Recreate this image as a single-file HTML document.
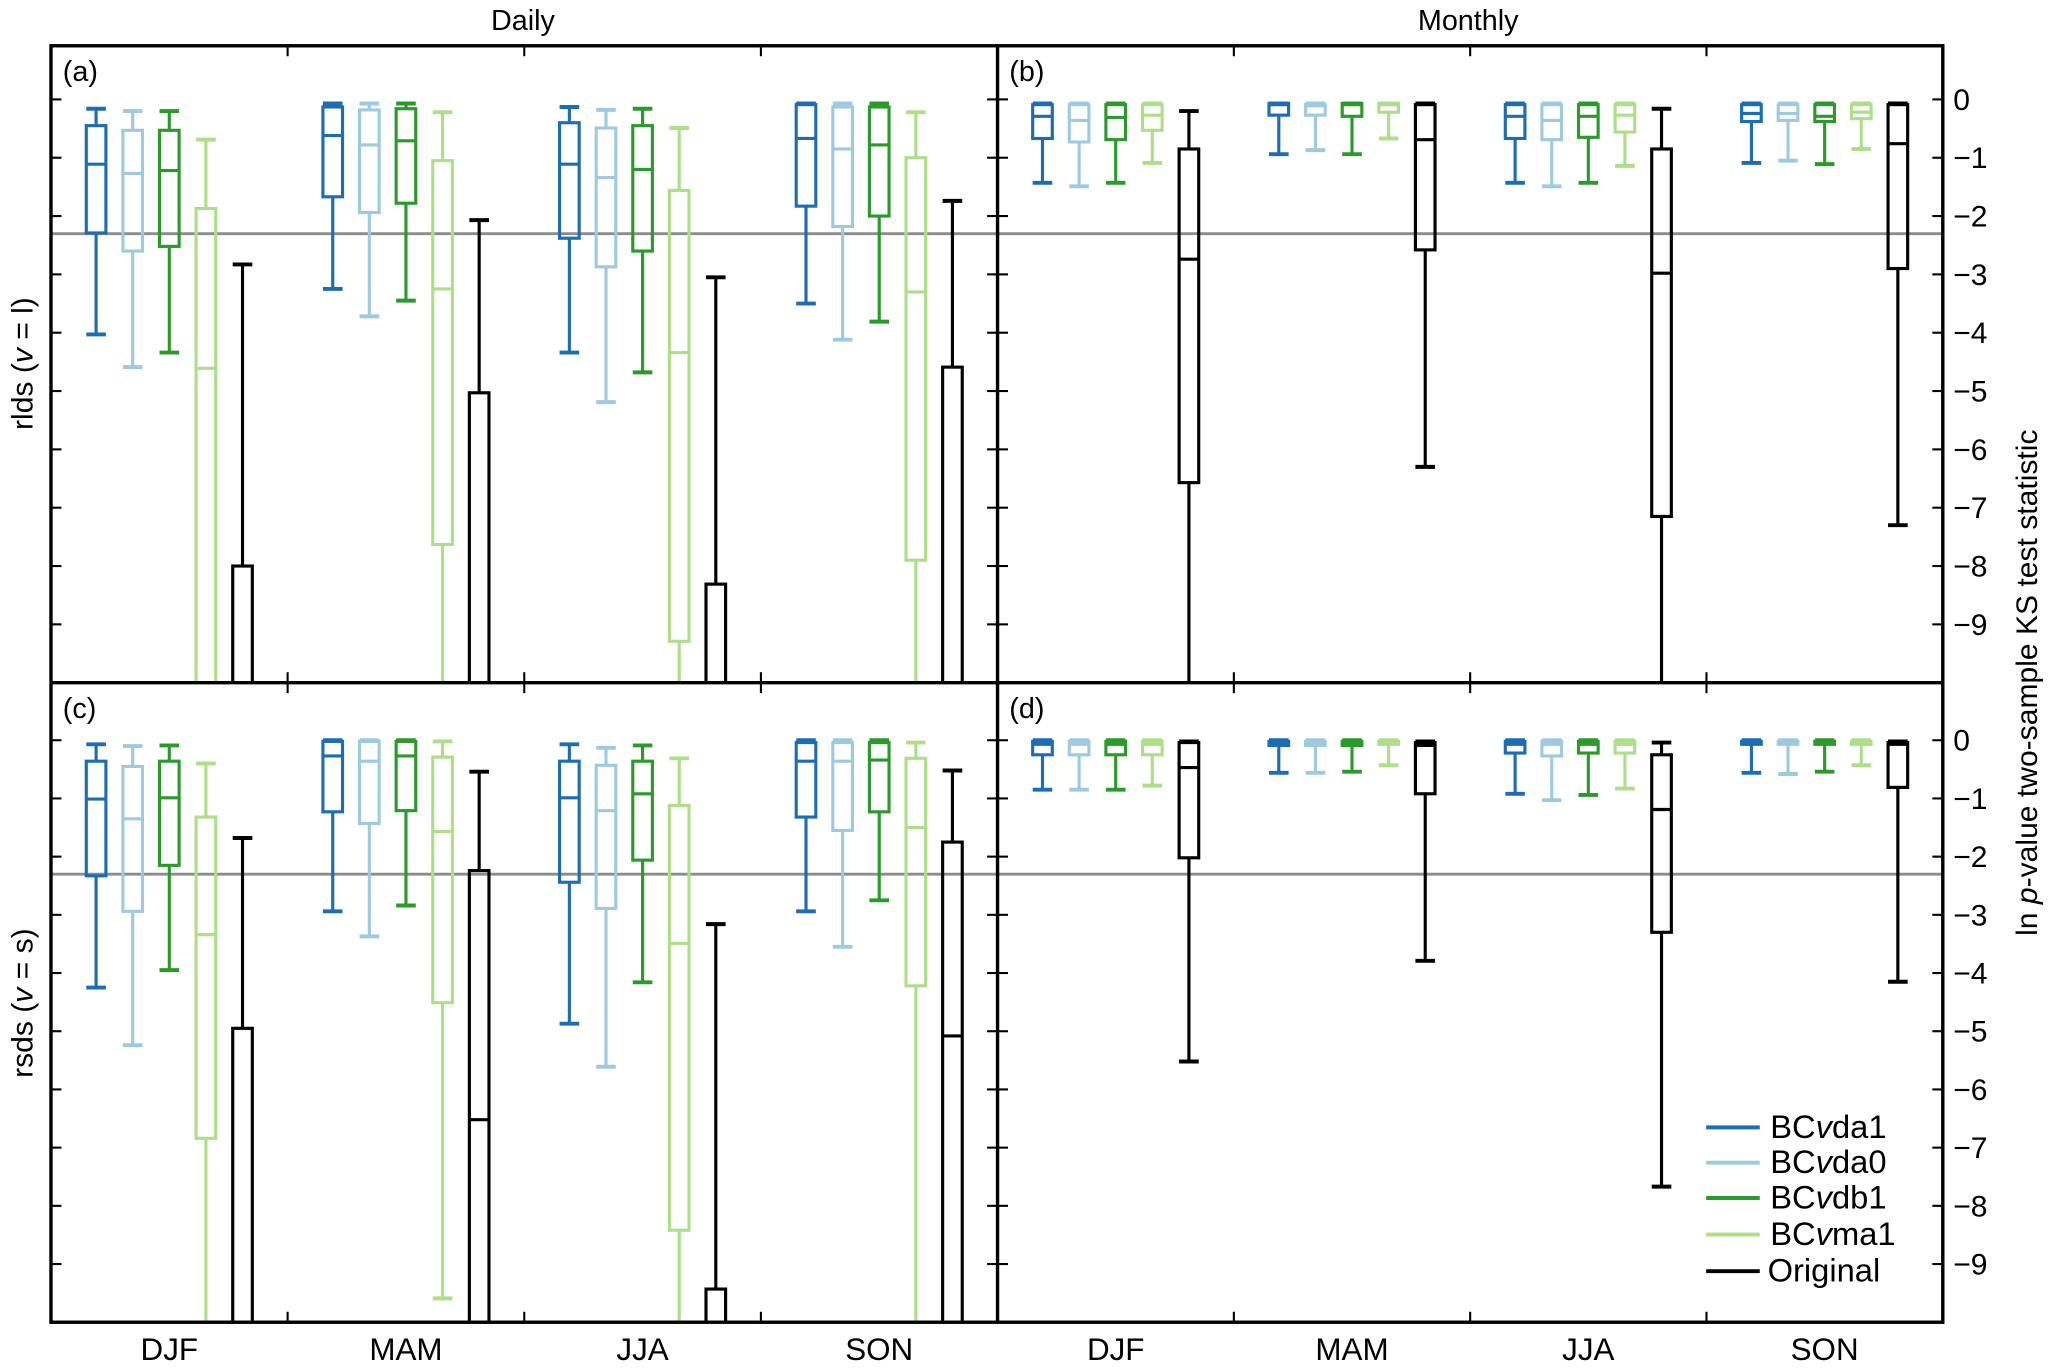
<!DOCTYPE html>
<html><head><meta charset="utf-8"><style>
html,body{margin:0;padding:0;background:#fff;overflow:hidden;width:2050px;height:1368px;}
svg{display:block;position:absolute;left:0;top:0;overflow:hidden;}
text{font-family:"Liberation Sans",Arial,sans-serif;fill:#000;}
</style></head><body>
<svg id="fig" width="2050" height="1368" viewBox="0 0 1568 1046" preserveAspectRatio="none" xmlns="http://www.w3.org/2000/svg">
<defs>
<clipPath id="cA"><rect x="39" y="35" width="724" height="487"/></clipPath>
<clipPath id="cB"><rect x="763" y="35" width="723" height="487"/></clipPath>
<clipPath id="cC"><rect x="39" y="522" width="724" height="489"/></clipPath>
<clipPath id="cD"><rect x="763" y="522" width="723" height="489"/></clipPath>
</defs>
<text x="400" y="23" font-size="22" text-anchor="middle">Daily</text>
<text x="1123" y="23" font-size="22" text-anchor="middle">Monthly</text>
<text transform="translate(25,278) rotate(-90)" font-size="23" text-anchor="middle">rlds (<tspan font-style="italic">v</tspan> = l)</text>
<text transform="translate(25,767) rotate(-90)" font-size="23" text-anchor="middle">rsds (<tspan font-style="italic">v</tspan> = s)</text>
<text transform="translate(1558,522) rotate(-90)" font-size="23" text-anchor="middle">ln <tspan font-style="italic">p</tspan>-value two-sample KS test statistic</text>
<g id="marks"></g>
<g id="frame"></g>
<g>
<line x1="1305" y1="862" x2="1346" y2="862" stroke="#1c6db3" stroke-width="3"/>
<text x="1354" y="870" font-size="25">BC<tspan font-style="italic">v</tspan>da1</text>
<line x1="1305" y1="889" x2="1346" y2="889" stroke="#9ecae1" stroke-width="3"/>
<text x="1354" y="897" font-size="25">BC<tspan font-style="italic">v</tspan>da0</text>
<line x1="1305" y1="916" x2="1346" y2="916" stroke="#2a9a2a" stroke-width="3"/>
<text x="1354" y="924" font-size="25">BC<tspan font-style="italic">v</tspan>db1</text>
<line x1="1305" y1="944" x2="1346" y2="944" stroke="#addf89" stroke-width="3"/>
<text x="1354" y="952" font-size="25">BC<tspan font-style="italic">v</tspan>ma1</text>
<line x1="1305" y1="972" x2="1346" y2="972" stroke="#000" stroke-width="3"/>
<text x="1352" y="980" font-size="25">Original</text>
</g>
</svg>
<script>
const seasons = ["DJF","MAM","JJA","SON"];
const seriesNames = ["vda1","vda0","vdb1","vma1","orig"];
const seriesColors = ["#1c6db3","#9ecae1","#2a9a2a","#addf89","#000000"];
const yTicks = [0,-1,-2,-3,-4,-5,-6,-7,-8,-9];
const refLine = Math.log(0.1);
// each entry: [low whisker, q1, median, q3, high whisker]
const a_vda1 = [[-4.03,-2.29,-1.11,-0.45,-0.16],[-3.25,-1.67,-0.62,-0.13,-0.07],[-4.34,-2.38,-1.11,-0.40,-0.13],[-3.50,-1.83,-0.67,-0.09,-0.07]];
const a_vda0 = [[-4.59,-2.60,-1.27,-0.53,-0.20],[-3.72,-1.94,-0.78,-0.18,-0.07],[-5.19,-2.87,-1.34,-0.49,-0.18],[-4.12,-2.18,-0.85,-0.13,-0.07]];
const a_vdb1 = [[-4.34,-2.52,-1.22,-0.53,-0.20],[-3.45,-1.78,-0.71,-0.16,-0.07],[-4.68,-2.60,-1.20,-0.45,-0.16],[-3.81,-2.00,-0.78,-0.13,-0.07]];
const a_vma1 = [[-12,-12,-4.61,-1.87,-0.69],[-12,-7.63,-3.25,-1.05,-0.22],[-12,-9.29,-4.34,-1.56,-0.49],[-12,-7.90,-3.30,-1.00,-0.22]];
const a_orig = [[-12,-12,-12,-8.00,-2.83],[-12,-12,-12,-5.03,-2.07],[-12,-12,-12,-8.31,-3.05],[-12,-12,-12,-4.59,-1.74]];
const b_vda1 = [[-1.43,-0.67,-0.29,-0.09,-0.07],[-0.94,-0.27,-0.09,-0.07,-0.07],[-1.43,-0.67,-0.29,-0.09,-0.07],[-1.09,-0.38,-0.24,-0.09,-0.07]];
const b_vda0 = [[-1.49,-0.73,-0.36,-0.09,-0.07],[-0.87,-0.27,-0.11,-0.09,-0.07],[-1.49,-0.69,-0.36,-0.09,-0.07],[-1.05,-0.36,-0.24,-0.09,-0.07]];
const b_vdb1 = [[-1.43,-0.69,-0.31,-0.09,-0.07],[-0.94,-0.29,-0.09,-0.07,-0.07],[-1.43,-0.65,-0.29,-0.09,-0.07],[-1.11,-0.38,-0.29,-0.09,-0.07]];
const b_vma1 = [[-1.09,-0.53,-0.27,-0.09,-0.07],[-0.67,-0.22,-0.09,-0.07,-0.07],[-1.14,-0.56,-0.27,-0.09,-0.07],[-0.85,-0.33,-0.22,-0.09,-0.07]];
const b_orig = [[-12,-6.57,-2.74,-0.85,-0.20],[-6.30,-2.58,-0.69,-0.09,-0.07],[-12,-7.15,-2.98,-0.85,-0.16],[-7.30,-2.90,-0.76,-0.09,-0.07]];
const c_vda1 = [[-4.25,-2.33,-1.01,-0.36,-0.07],[-2.94,-1.23,-0.27,-0.02,0],[-4.87,-2.44,-0.99,-0.36,-0.07],[-2.94,-1.32,-0.36,-0.04,0]];
const c_vda0 = [[-5.24,-2.94,-1.35,-0.45,-0.10],[-3.37,-1.43,-0.36,-0.02,0],[-5.61,-2.89,-1.21,-0.43,-0.13],[-3.55,-1.55,-0.36,-0.04,0]];
const c_vdb1 = [[-3.95,-2.15,-0.99,-0.36,-0.09],[-2.84,-1.21,-0.27,-0.02,0],[-4.16,-2.06,-0.92,-0.36,-0.09],[-2.75,-1.23,-0.34,-0.04,0]];
const c_vma1 = [[-12,-6.84,-3.34,-1.32,-0.40],[-9.59,-4.51,-1.57,-0.29,-0.02],[-12,-8.42,-3.49,-1.12,-0.31],[-12,-4.22,-1.50,-0.31,-0.04]];
const c_orig = [[-12,-12,-12,-4.95,-1.68],[-12,-12,-6.52,-2.24,-0.54],[-12,-12,-12,-9.43,-3.16],[-12,-12,-5.08,-1.75,-0.52]];
const d_vda1 = [[-0.85,-0.25,-0.07,-0.02,0],[-0.56,-0.09,-0.04,-0.02,0],[-0.92,-0.22,-0.07,-0.02,0],[-0.56,-0.07,-0.04,-0.02,0]];
const d_vda0 = [[-0.85,-0.25,-0.07,-0.02,0],[-0.56,-0.09,-0.04,-0.02,0],[-1.03,-0.27,-0.07,-0.02,0],[-0.58,-0.07,-0.04,-0.02,0]];
const d_vdb1 = [[-0.85,-0.25,-0.07,-0.02,0],[-0.54,-0.09,-0.04,-0.02,0],[-0.94,-0.22,-0.07,-0.02,0],[-0.54,-0.07,-0.04,-0.02,0]];
const d_vma1 = [[-0.78,-0.25,-0.07,-0.02,0],[-0.43,-0.07,-0.04,-0.02,0],[-0.83,-0.22,-0.07,-0.02,0],[-0.43,-0.07,-0.04,-0.02,0]];
const d_orig = [[-5.52,-2.02,-0.47,-0.04,-0.02],[-3.79,-0.92,-0.09,-0.04,-0.02],[-7.67,-3.30,-1.19,-0.25,-0.04],[-4.15,-0.81,-0.07,-0.04,-0.02]];

const NS = "http://www.w3.org/2000/svg";
const panels = [
  {id:"a", x0:39, x1:763, top:35, bot:522, zero:76, unit:44.6, clip:"cA", data:[a_vda1,a_vda0,a_vdb1,a_vma1,a_orig]},
  {id:"b", x0:763, x1:1486, top:35, bot:522, zero:76, unit:44.6, clip:"cB", data:[b_vda1,b_vda0,b_vdb1,b_vma1,b_orig]},
  {id:"c", x0:39, x1:763, top:522, bot:1011, zero:566, unit:44.5, clip:"cC", data:[c_vda1,c_vda0,c_vdb1,c_vma1,c_orig]},
  {id:"d", x0:763, x1:1486, top:522, bot:1011, zero:566, unit:44.5, clip:"cD", data:[d_vda1,d_vda0,d_vdb1,d_vma1,d_orig]}
];
function mk(tag, attrs, parent){
  const e = document.createElementNS(NS, tag);
  for (const k in attrs) e.setAttribute(k, attrs[k]);
  parent.appendChild(e);
  return e;
}
const marks = document.getElementById("marks");
const frame = document.getElementById("frame");
panels.forEach(p => {
  const yS = v => Math.min(p.bot + 4, Math.max(p.top - 4, p.zero - v * p.unit));
  const gw = (p.x1 - p.x0) / seasons.length;
  const xS = (si, k) => p.x0 + gw * (si + 0.5) + (k - 2) * 28;
  const g = mk("g", {"clip-path":"url(#"+p.clip+")"}, marks);
  
  
  const rl = mk("line", {x1:p.x0, x2:p.x1, y1:yS(refLine), y2:yS(refLine), stroke:"#8c8c8c", "stroke-width":2.2}, g);
  
  
  p.data.forEach((ser, k) => {
    ser.forEach((st, si) => {
      const cx = xS(si, k), hw = 7.5, col = seriesColors[k];
      const bx = mk("g", {stroke:col, "stroke-width":2.4, fill:"none"}, g);
      
      
      const [lo, q1, md, q3, hi] = st;
      mk("line", {x1:cx, x2:cx, y1:yS(hi), y2:yS(q3)}, bx);
      mk("line", {x1:cx, x2:cx, y1:yS(q1), y2:yS(lo)}, bx);
      mk("line", {x1:cx-hw, x2:cx+hw, y1:yS(hi), y2:yS(hi), "stroke-width":3}, bx);
      mk("line", {x1:cx-hw, x2:cx+hw, y1:yS(lo), y2:yS(lo), "stroke-width":3}, bx);
      mk("rect", {x:cx-hw, y:yS(q3), width:2*hw, height:Math.max(0.5, yS(q1)-yS(q3))}, bx);
      mk("line", {x1:cx-hw, x2:cx+hw, y1:yS(md), y2:yS(md)}, bx);
    });
  });
  const fg = mk("g", {stroke:"#000", "stroke-width":1.6}, frame);
  
  
  yTicks.forEach(t => {
    mk("line", {x1:p.x0, x2:p.x0+8, y1:yS(t), y2:yS(t)}, fg);
    mk("line", {x1:p.x1-8, x2:p.x1, y1:yS(t), y2:yS(t)}, fg);
  });
  for (let i = 1; i < seasons.length; i++) {
    const bx = p.x0 + gw * i;
    mk("line", {x1:bx, x2:bx, y1:p.top, y2:p.top+8}, fg);
    mk("line", {x1:bx, x2:bx, y1:p.bot-8, y2:p.bot}, fg);
  }
  const lab = mk("text", {x:p.x0+9, y:p.top+27, "font-size":22}, frame);
  lab.textContent = "(" + p.id + ")";
  
  
  if (p.id === "b" || p.id === "d") {
    yTicks.forEach(t => {
      const tl = mk("text", {x:1494, y:yS(t)+8, "font-size":23}, frame);
      tl.textContent = t === 0 ? "0" : "\u2212" + Math.abs(t);
      
      
    });
  }
  if (p.id === "c" || p.id === "d") {
    seasons.forEach((s, si) => {
      const sl = mk("text", {x:p.x0 + gw*(si+0.5), y:1040, "font-size":24, "text-anchor":"middle"}, frame);
      sl.textContent = s;
      
      
    });
  }
});
const border = mk("g", {stroke:"#000", "stroke-width":2.6, fill:"none"}, frame);


mk("rect", {x:39, y:35, width:1447, height:976}, border);
mk("line", {x1:763, x2:763, y1:35, y2:1011}, border);
mk("line", {x1:39, x2:1486, y1:522, y2:522}, border);
</script>
</body></html>
